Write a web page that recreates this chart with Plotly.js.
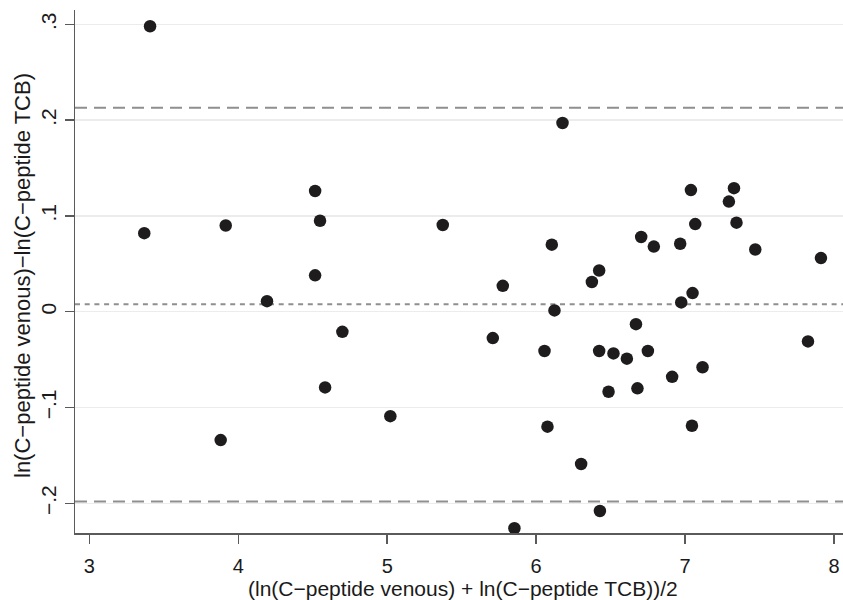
<!DOCTYPE html>
<html>
<head>
<meta charset="utf-8">
<script src="https://cdn.plot.ly/plotly-3.0.1.min.js"></script>
<style>html,body{margin:0;padding:0;background:#fff;}#chart{width:843px;height:600px;}</style>
</head>
<body>
<div id="chart"></div>
<script>
// mean of the two log measurements
var meanLog = [3.408, 3.369, 3.882, 3.916, 4.193, 4.516, 4.516, 4.549, 4.583, 4.699,
  5.021, 5.373, 5.709, 5.776, 5.854, 6.056, 6.076, 6.105, 6.123, 6.177,
  6.302, 6.374, 6.423, 6.423, 6.428, 6.486, 6.519, 6.609, 6.670, 6.680,
  6.705, 6.750, 6.790, 6.913, 6.967, 6.974, 7.039, 7.046, 7.050, 7.068,
  7.117, 7.294, 7.328, 7.345, 7.471, 7.825, 7.912];
// difference of the two log measurements
var diffLog = [0.298, 0.082, -0.134, 0.090, 0.011, 0.126, 0.038, 0.095, -0.079, -0.021,
  -0.109, 0.0905, -0.0275, 0.027, -0.226, -0.041, -0.120, 0.070, 0.0014, 0.197,
  -0.159, 0.031, 0.043, -0.041, -0.208, -0.0835, -0.0435, -0.049, -0.013, -0.080,
  0.078, -0.041, 0.068, -0.068, 0.071, 0.0097, 0.127, -0.119, 0.0195, 0.0915,
  -0.058, 0.115, 0.129, 0.093, 0.065, -0.031, 0.056];
// limits of agreement and mean difference
var upperLimit = [0.213];
var meanDiff = [0.0077];
var lowerLimit = [-0.198];
var xTickVals = [3, 4, 5, 6, 7, 8];
var xTickText = ["3", "4", "5", "6", "7", "8"];
var yTickVals = [-0.2, -0.1, 0, 0.1, 0.2, 0.3];
var yTickText = ["\u2212.2", "\u2212.1", "0", ".1", ".2", ".3"];

var FONT = "'Liberation Sans', Arial, Helvetica, sans-serif";
var axisCol = "#5a5a5a";
var refCol = "#8f8f8f";
var txtCol = "#1a1a1a";

var shapes = [];
upperLimit.forEach(function (v) {
  shapes.push({type: "line", xref: "paper", x0: 0, x1: 1, yref: "y", y0: v, y1: v,
    line: {color: refCol, width: 2, dash: "12px,7px"}, layer: "below"});
});
lowerLimit.forEach(function (v) {
  shapes.push({type: "line", xref: "paper", x0: 0, x1: 1, yref: "y", y0: v, y1: v,
    line: {color: refCol, width: 2, dash: "12px,7px"}, layer: "below"});
});
meanDiff.forEach(function (v) {
  shapes.push({type: "line", xref: "paper", x0: 0, x1: 1, yref: "y", y0: v, y1: v,
    line: {color: refCol, width: 2, dash: "5px,4.7px"}, layer: "below"});
});

var trace = {
  x: meanLog, y: diffLog, type: "scatter", mode: "markers",
  marker: {size: 12.5, color: "#1e1c1d", line: {width: 0}},
  hoverinfo: "x+y", showlegend: false
};

var layout = {
  width: 843, height: 600,
  margin: {l: 75, r: 0, t: 10, b: 67, pad: 0},
  paper_bgcolor: "#ffffff", plot_bgcolor: "#ffffff",
  font: {family: FONT, color: txtCol, size: 21},
  showlegend: false,
  xaxis: {
    range: [2.904, 8.06], tickmode: "array", tickvals: xTickVals, ticktext: xTickText,
    showgrid: false, zeroline: false, showline: true, linecolor: axisCol, linewidth: 1.5,
    ticks: "outside", ticklen: 9, tickwidth: 1.5, tickcolor: axisCol,
    ticklabelstandoff: 5,
    tickfont: {family: FONT, size: 20, color: txtCol}
  },
  yaxis: {
    range: [-0.231, 0.315], tickmode: "array", tickvals: yTickVals, ticktext: yTickText,
    tickangle: -90,
    showgrid: true, gridcolor: "#ececec", gridwidth: 1.5,
    zeroline: false, showline: true, linecolor: axisCol, linewidth: 1.5,
    ticks: "outside", ticklen: 9, tickwidth: 1.5, tickcolor: axisCol,
    tickfont: {family: FONT, size: 21, color: txtCol}
  },
  shapes: shapes,
  annotations: [
    {text: "(ln(C\u2212peptide venous) + ln(C\u2212peptide TCB))/2", xref: "paper", yref: "paper",
      x: (463 - 75) / 768, y: -(588 - 533) / 523, xanchor: "center", yanchor: "middle",
      borderpad: 0,
      showarrow: false, font: {family: FONT, size: 21, color: txtCol}},
    {text: "ln(C\u2212peptide venous)\u2212ln(C\u2212peptide TCB)", xref: "paper", yref: "paper",
      x: -(75 - 23) / 768, y: (533 - 276) / 523, xanchor: "center", yanchor: "middle",
      borderpad: 0,
      textangle: -90, showarrow: false, font: {family: FONT, size: 22, color: txtCol}}
  ]
};

Plotly.newPlot("chart", [trace], layout, {displayModeBar: false, staticPlot: true});
</script>
</body>
</html>
